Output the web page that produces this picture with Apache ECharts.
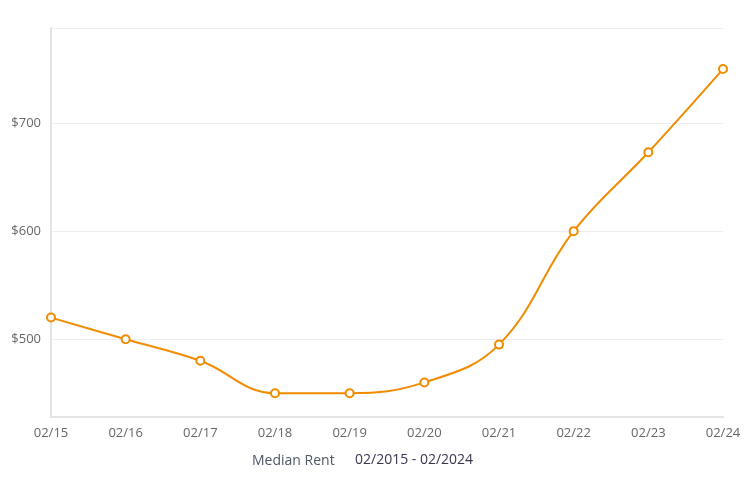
<!DOCTYPE html>
<html>
<head>
<meta charset="utf-8">
<script src="https://cdn.jsdelivr.net/npm/echarts@6/dist/echarts.min.js"></script>
<style>
  html, body { margin: 0; padding: 0; background: #fff; }
  #main { width: 745px; height: 478px; }
</style>
</head>
<body>
<div id="main"></div>
<script>
// 数据
const categories = ['02/15', '02/16', '02/17', '02/18', '02/19', '02/20', '02/21', '02/22', '02/23', '02/24']
const medianRent = [520, 500, 480, 450, 450, 460, 495, 600, 673, 750]
const yTicks = [500, 600, 700]
const seriesName = 'Median Rent'
const dateRange = '02/2015 - 02/2024'

const myChart = echarts.init(document.getElementById('main'))
const font = '"Open Sans", "Noto Sans", sans-serif'
const yMin = 428
const yMax = 788

const option = {
  animation: false,
  textStyle: { fontFamily: font },
  grid: { left: 51, right: 22, top: 28, bottom: 61 },
  // 图例
  legend: {
    data: [seriesName],
    icon: 'none',
    itemWidth: 0,
    left: 242,
    top: 449,
    textStyle: { color: '#4d5766', fontSize: 14, fontFamily: font }
  },
  graphic: [{
    type: 'text',
    left: 355,
    top: 453,
    style: { text: dateRange, fill: '#3a3550', fontSize: 14, fontFamily: font }
  }],
  xAxis: {
    type: 'category',
    data: categories,
    boundaryGap: false,
    axisLine: { lineStyle: { color: '#e3e3e3', width: 2 } },
    axisTick: { show: false },
    axisLabel: { color: '#666', fontSize: 13, margin: 10, fontFamily: font }
  },
  yAxis: {
    type: 'value',
    min: yMin,
    max: yMax,
    axisLine: { show: true, lineStyle: { color: '#e3e3e3', width: 2 } },
    axisTick: { show: false, customValues: yTicks.concat([yMax]) },
    axisLabel: {
      color: '#666', fontSize: 13, margin: 10, fontFamily: font,
      customValues: yTicks,
      formatter: v => '$' + v
    },
    splitLine: { show: true, lineStyle: { color: '#eeeeee', width: 1 } }
  },
  series: [{
    name: seriesName,
    type: 'line',
    data: medianRent,
    smooth: 0.4,
    symbol: 'emptyCircle',
    symbolSize: 8,
    color: '#ef8c00',
    lineStyle: { width: 2, color: '#ef8c00' },
    itemStyle: { color: '#ef8c00', borderWidth: 2 }
  }]
}
myChart.setOption(option)
</script>
</body>
</html>
